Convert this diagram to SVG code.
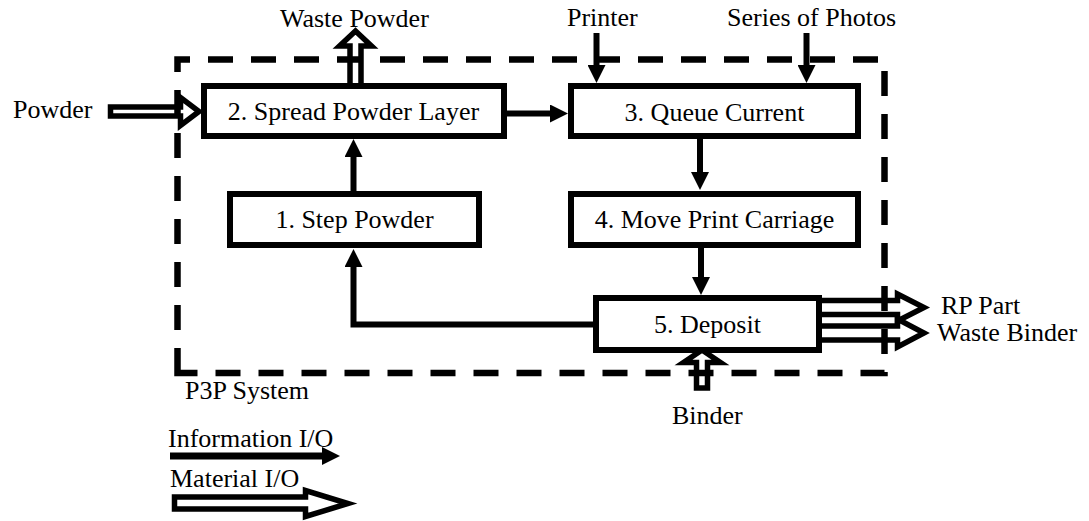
<svg xmlns="http://www.w3.org/2000/svg" width="1089" height="521" viewBox="0 0 1089 521">
  <style>
    text { font-family: "Liberation Serif", "Times New Roman", "DejaVu Serif", serif; font-size: 26px; fill: #000; }
    .mid { text-anchor: middle; }
    .box { fill: #fff; stroke: #000; stroke-width: 6; }
    .info { fill: none; stroke: #000; stroke-width: 6; marker-end: url(#head); }
    .mat { fill: #fff; stroke: #000; stroke-width: 5.5; stroke-linejoin: miter; }
    .boundary { fill: none; stroke: #000; stroke-width: 6.5; stroke-dasharray: 25 18; }
  </style>
  <defs>
    <!-- solid arrowhead for information flows; the line stops at the head's base -->
    <marker id="head" markerUnits="userSpaceOnUse" viewBox="0 -9 18 18" refX="1" refY="0" markerWidth="18" markerHeight="18" orient="auto">
      <path d="M0,-9 L18,0 L0,9 Z" fill="#000"/>
    </marker>
  </defs>

  <!-- material flows (hollow block arrows) -->
  <g id="material-flows">
    <polygon class="mat" points="110.5,107 180.5,107 180.5,97.5 199,111.5 180.5,125.5 180.5,116 110.5,116"/>
    <polygon class="mat" points="350,86 350,46 339.5,46 355.5,31 371.5,46 361,46 361,86"/>
    <polygon class="mat" points="696.5,388 696.5,362.5 683.5,362.5 702,350 720.5,362.5 707.5,362.5 707.5,388"/>
    <polygon class="mat" points="819,300.5 897.5,300.5 897.5,294 924,307.5 897.5,321 897.5,314.5 819,314.5"/>
    <polygon class="mat" points="819,326 897.5,326 897.5,319 924,333 897.5,347 897.5,340 819,340"/>
  </g>

  <!-- information flows -->
  <g id="connectors">
    <line class="info" x1="506" y1="113.5" x2="551" y2="113.5"/>
    <line class="info" x1="596.5" y1="33" x2="596.5" y2="66"/>
    <line class="info" x1="806.5" y1="33" x2="806.5" y2="66"/>
    <line class="info" x1="700" y1="138" x2="700" y2="173"/>
    <line class="info" x1="701" y1="247" x2="701" y2="278"/>
    <line class="info" x1="353.5" y1="192" x2="353.5" y2="156"/>
    <path class="info" d="M596,324.5 L353.5,324.5 L353.5,266"/>
  </g>

  <!-- process steps -->
  <g id="step1">
    <rect class="box" x="230" y="194" width="249" height="51"/>
    <text class="mid" x="354.5" y="228" font-family="Liberation Serif, serif">1. Step Powder</text>
  </g>
  <g id="step2">
    <rect class="box" x="204" y="86" width="300" height="50"/>
    <text class="mid" x="353.5" y="120" font-family="Liberation Serif, serif">2. Spread Powder Layer</text>
  </g>
  <g id="step3">
    <rect class="box" x="571" y="86" width="287" height="50"/>
    <text class="mid" x="714.5" y="121" font-family="Liberation Serif, serif">3. Queue Current</text>
  </g>
  <g id="step4">
    <rect class="box" x="571" y="194" width="287" height="51"/>
    <text class="mid" x="714.5" y="228" font-family="Liberation Serif, serif">4. Move Print Carriage</text>
  </g>
  <g id="step5">
    <rect class="box" x="596" y="298" width="223" height="52"/>
    <text class="mid" x="707.5" y="333" font-family="Liberation Serif, serif">5. Deposit</text>
  </g>

  <!-- system boundary -->
  <g id="system">
    <path class="boundary" d="M177.5,373 L177.5,59.5 L884.5,59.5 L884.5,373 Z"/>
    <text x="185" y="399" font-family="Liberation Serif, serif">P3P System</text>
  </g>

  <!-- external inputs and outputs -->
  <g id="io-labels" font-family="Liberation Serif, serif">
    <text x="13" y="118">Powder</text>
    <text x="280" y="27">Waste Powder</text>
    <text x="567" y="26">Printer</text>
    <text x="727" y="26">Series of Photos</text>
    <text x="941" y="314">RP Part</text>
    <text x="937" y="341">Waste Binder</text>
    <text x="672" y="424">Binder</text>
  </g>

  <!-- legend -->
  <g id="legend" font-family="Liberation Serif, serif">
    <text x="168" y="447">Information I/O</text>
    <line x1="170" y1="456" x2="323" y2="456" stroke="#000" stroke-width="7" marker-end="url(#head)"/>
    <text x="170" y="487">Material I/O</text>
    <polygon class="mat" points="174.5,497 305.5,497 305.5,490.5 348,503.5 305.5,516.5 305.5,509 174.5,509"/>
  </g>
</svg>
